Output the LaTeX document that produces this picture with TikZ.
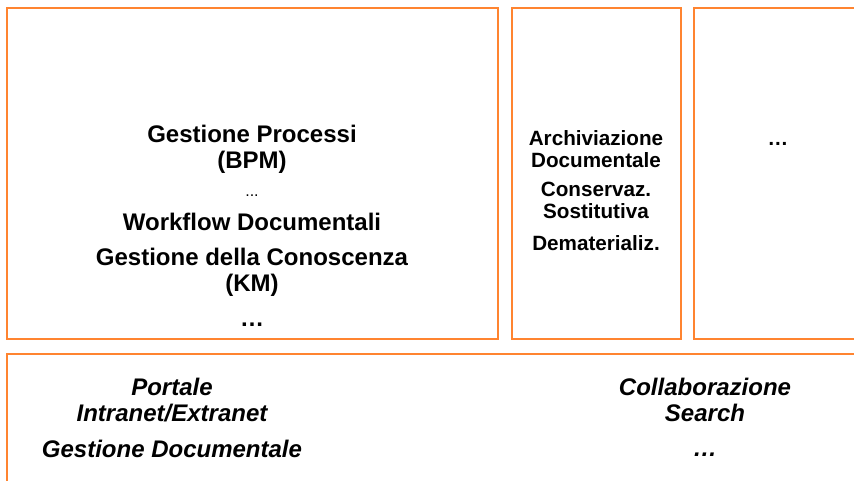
\documentclass[tikz,border=0pt]{standalone}
\usepackage{fontspec}
\setmainfont{Liberation Sans}
\definecolor{boxorange}{RGB}{255,132,48}
\tikzset{
  panel/.style={draw=boxorange, line width=1.1pt},
  bigtxt/.style={font=\bfseries\fontsize{18}{19.5}\selectfont, align=center, inner sep=0pt},
  midtxt/.style={font=\bfseries\fontsize{15.5}{16.5}\selectfont, align=center, inner sep=0pt},
  basetxt/.style={font=\bfseries\itshape\fontsize{18}{19}\selectfont, align=center, inner sep=0pt},
  smalltxt/.style={font=\fontsize{12}{13}\selectfont, inner sep=0pt}
}
\begin{document}
\begin{tikzpicture}[x=0.75pt, y=-0.75pt]

  \useasboundingbox (0,0) rectangle (854,480);
  \clip (0,0) rectangle (854,480);

  % Processi
  \draw[panel] (7,8) rectangle (498,339);
  \node[bigtxt] (bpm) at (252,149) {Gestione Processi\\(BPM)};
  \node[smalltxt] (dots1) at (252,196) {...};
  \node[bigtxt] (wf) at (252,222) {Workflow Documentali};
  \node[bigtxt] (km) at (252,272) {Gestione della Conoscenza\\(KM)};
  \node[bigtxt] (dots2) at (252,325) {\dots};

  % Archiviazione
  \draw[panel] (512,8) rectangle (681,339);
  \node[midtxt] (arch) at (596,149) {Archiviazione\\Documentale};
  \node[midtxt] (cons) at (596,200) {Conservaz.\\Sostitutiva};
  \node[midtxt] (demat) at (596,243) {Dematerializ.};

  % Altro
  \draw[panel] (694,8) rectangle (864,339);
  \node[midtxt] (dots3) at (778,144) {\dots};

  % Base
  \draw[panel] (7,354) rectangle (864,490);
  \node[basetxt] (portale) at (172,400) {Portale\\Intranet/Extranet};
  \node[basetxt] (gd) at (172,449) {Gestione Documentale};
  \node[basetxt] (collab) at (705,400) {Collaborazione\\Search};
  \node[basetxt] (dots4) at (705,455) {\dots};

\end{tikzpicture}
\end{document}
